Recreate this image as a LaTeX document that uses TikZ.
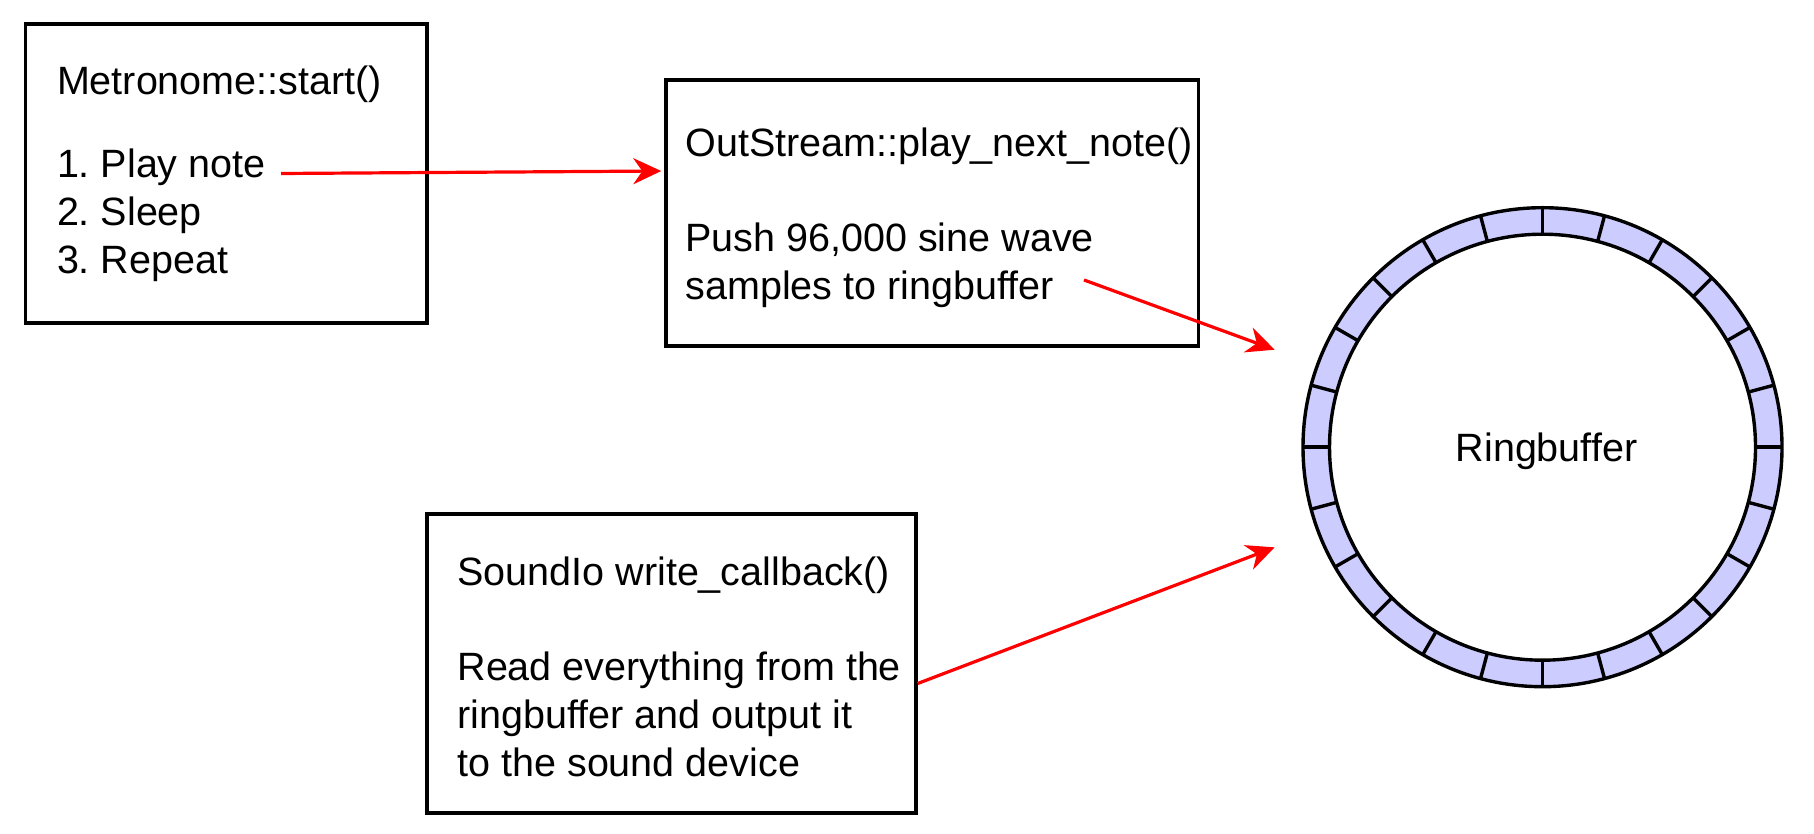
\documentclass[tikz,border=0pt]{standalone}
\usepackage{fontspec}
\setmainfont{Liberation Sans}
\usepackage{tikz}
\usetikzlibrary{arrows.meta,positioning,calc}
\definecolor{cellfill}{RGB}{204,204,255}
\frenchspacing

\begin{document}
\begin{tikzpicture}[
    x=1pt, y=1pt,
    block/.style={rectangle, draw, line width=3.4pt, inner sep=0pt},
    boxtext/.style={inner sep=0pt, align=left, font=\fontsize{39.5}{48}\selectfont},
    flow/.style={-{Stealth[length=28pt, width=26pt, inset=9pt]}, red, line width=3.2pt},
    ringline/.style={line width=3.4pt}
  ]
    \useasboundingbox (0,0) rectangle (1814,833);
    % the three boxes
    \node[block, minimum width=401.5pt, minimum height=299pt] (metro) at (226.25,659.5) {};
    \node[block, minimum width=532.5pt, minimum height=266pt] (outs) at (932.25,620) {};
    \node[block, minimum width=489pt, minimum height=299pt] (sound) at (671.5,169.5) {};
    \node[boxtext, right=33pt of metro.west] (metrotext) {Metronome::start()\\[35pt]1. Play note\\2. Sleep\\3. Repeat};
    \node[boxtext, right=21pt of outs.west, yshift=-5pt] (outstext) {OutStream::play\_next\_note()\\[47pt]Push 96,000 sine wave\\samples to ringbuffer};
    \node[boxtext, right=32pt of sound.west, yshift=-3.5pt] (soundtext) {SoundIo write\_callback()\\[47pt]Read everything from the\\ringbuffer and output it\\to the sound device};
    % ring buffer with 24 cells
    \coordinate (rc) at (1542.5,385.8);
    \draw[ringline, fill=cellfill, even odd rule] (rc) circle (239.5) (rc) circle (213);
    \foreach \a in {0,15,...,345}
      \draw[ringline] ($(rc)+(\a:213)$) -- ($(rc)+(\a:239.5)$);
    \node[boxtext, xshift=4pt, yshift=-4.5pt] (ring) at (rc) {Ringbuffer};
    % connectors
    \coordinate (playend) at (281,659.5);
    \coordinate (pushend) at (1084,553);
    \draw[flow, shorten >=3pt] (playend) -- ([yshift=42pt]outs.west);
    \draw[flow] (pushend) -- ($(rc)+(160:285)$);
    \draw[flow] ([yshift=-20pt]sound.east) -- ($(rc)+(200.5:286)$);
\end{tikzpicture}
\end{document}
